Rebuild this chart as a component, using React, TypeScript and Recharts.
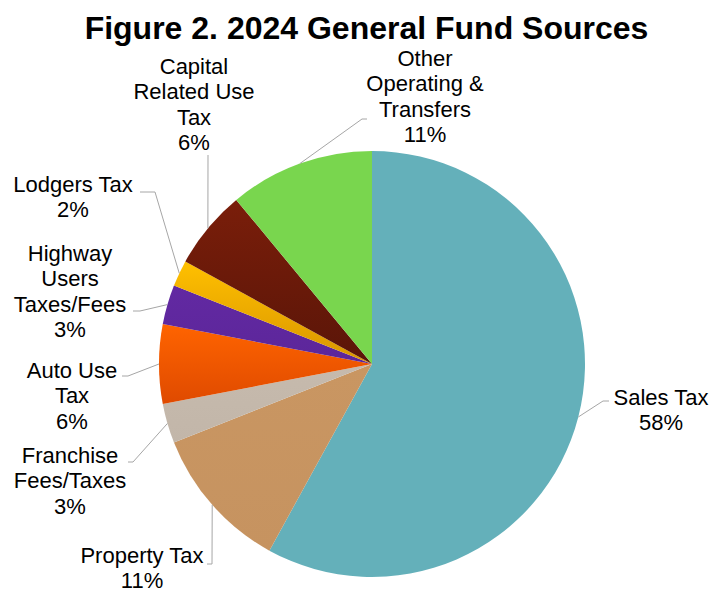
import React from 'react'
import { PieChart, Pie, Cell } from 'recharts'

// slice data, clockwise from 12 o'clock
const categories = [
  'Sales Tax',
  'Property Tax',
  'Franchise Fees/Taxes',
  'Auto Use Tax',
  'Highway Users Taxes/Fees',
  'Lodgers Tax',
  'Capital Related Use Tax',
  'Other Operating & Transfers',
]
const shares = [58, 11, 3, 6, 3, 2, 6, 11]
const labelLines = [
  ['Sales Tax'],
  ['Property Tax'],
  ['Franchise', 'Fees/Taxes'],
  ['Auto Use', 'Tax'],
  ['Highway', 'Users', 'Taxes/Fees'],
  ['Lodgers Tax'],
  ['Capital', 'Related Use', 'Tax'],
  ['Other', 'Operating &', 'Transfers'],
]

// colours: [top, bottom] of each slice's gradient
const sliceColors = [
  ['#64b0ba', '#64b0ba'],
  ['#c99662', '#c69360'],
  ['#c6baad', '#c2b6a9'],
  ['#ff6400', '#df4a00'],
  ['#6229a2', '#5c269a'],
  ['#ffc000', '#d99500'],
  ['#7a1e0a', '#5a1508'],
  ['#79d64e', '#79d64e'],
]

// label placement relative to pie centre: text block centre x, first line y, leader elbow, leader end
const labelLayout = [
  { tx: 289, ty: 33, bx: 231, by: 37, ex: 237, ey: 37 },
  { tx: -230, ty: 191, bx: -160, by: 200, ex: -165, ey: 200 },
  { tx: -302, ty: 91, bx: -239, by: 98, ex: -244, ey: 98 },
  { tx: -300, ty: 6, bx: -244, by: 12, ex: -250, ey: 12 },
  { tx: -302, ty: -111, bx: -232, by: -53, ex: -239, ey: -53 },
  { tx: -299, ty: -180, bx: -217, by: -172, ex: -232, ey: -172 },
  { tx: -178, ty: -298, bx: -164, by: -209, ex: -164, ey: -209 },
  { tx: 53, ty: -306, bx: -10, by: -245, ex: -5, ey: -245 },
]

const data = categories.map((name, i) => ({ name, value: shares[i] }))

const RADIAN = Math.PI / 180
const LINE_H = 25.5

const renderLabel = (props: any) => {
  const { cx, cy, midAngle, outerRadius, index, percent } = props
  const lay = labelLayout[index]
  const px = cx + outerRadius * Math.cos(-midAngle * RADIAN)
  const py = cy + outerRadius * Math.sin(-midAngle * RADIAN)
  const lines = [...labelLines[index], `${Math.round(percent * 100)}%`]
  return (
    <g>
      <polyline
        points={`${px},${py} ${cx + lay.bx},${cy + lay.by} ${cx + lay.ex},${cy + lay.ey}`}
        fill="none"
        stroke="#a6a6a6"
        strokeWidth={1}
      />
      <text
        x={cx + lay.tx}
        y={cy + lay.ty}
        textAnchor="middle"
        fill="#000"
        fontSize={22}
        fontFamily="'Liberation Sans', Arial, sans-serif"
      >
        {lines.map((t, i) => (
          <tspan key={i} x={cx + lay.tx} y={cy + lay.ty + i * LINE_H} dominantBaseline="central">
            {t}
          </tspan>
        ))}
      </text>
    </g>
  )
}

export default function App() {
  return (
    <div style={{ position: 'absolute', left: 0, top: 0, width: 713, height: 592, background: '#fff', overflow: 'hidden' }}>
      <style>{`.recharts-pie-sectors { filter: drop-shadow(1px 2px 3px rgba(0,0,0,0.28)); }`}</style>
      <div
        style={{
          position: 'absolute',
          left: 0,
          top: 8,
          width: 733,
          textAlign: 'center',
          fontFamily: "'Liberation Sans', Arial, sans-serif",
          fontWeight: 'bold',
          fontSize: 32,
          lineHeight: '40px',
          color: '#000',
        }}
      >
        Figure 2. 2024 General Fund Sources
      </div>
      <PieChart
        width={713}
        height={592}
        margin={{ top: 0, right: 0, bottom: 0, left: 0 }}
        style={{ position: 'absolute', left: 0, top: 0 }}
      >
        <defs>
          {sliceColors.map((c, i) => (
            <linearGradient key={i} id={`slice-grad-${i}`} x1="0" y1="0" x2="0" y2="1">
              <stop offset="0%" stopColor={c[0]} />
              <stop offset="100%" stopColor={c[1]} />
            </linearGradient>
          ))}
        </defs>
        <Pie
          data={data}
          dataKey="value"
          nameKey="name"
          cx={372}
          cy={364}
          outerRadius={213}
          startAngle={90}
          endAngle={-270}
          stroke="none"
          label={renderLabel}
          labelLine={false}
          isAnimationActive={false}
        >
          {data.map((d, i) => (
            <Cell key={d.name} fill={`url(#slice-grad-${i})`} />
          ))}
        </Pie>
      </PieChart>
    </div>
  )
}
